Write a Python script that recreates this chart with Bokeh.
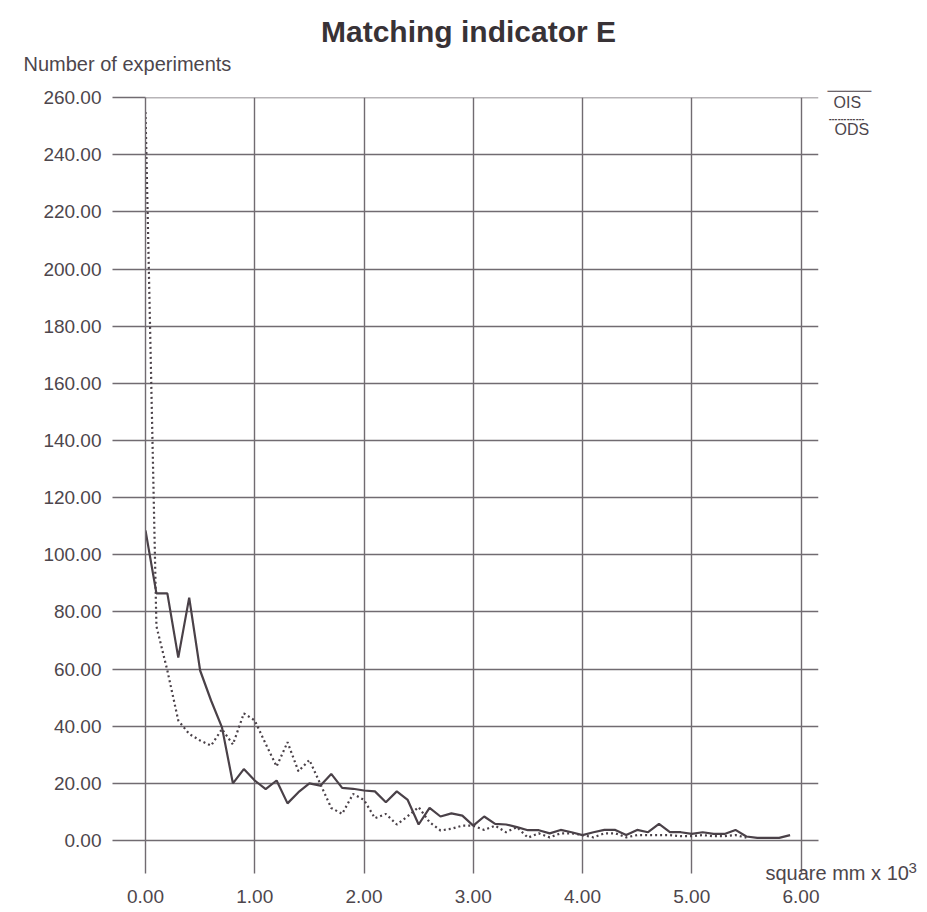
from bokeh.plotting import figure
from bokeh.models import Range1d, FixedTicker, PrintfTickFormatter, Label
from bokeh.embed import file_html
from bokeh.resources import INLINE

# ---------------- data ----------------
ois_x = [0.0, 0.1, 0.2, 0.3, 0.4, 0.5, 0.6, 0.7, 0.8, 0.9,
         1.0, 1.1, 1.2, 1.3, 1.4, 1.5, 1.6, 1.7, 1.8, 1.9,
         2.0, 2.1, 2.2, 2.3, 2.4, 2.5, 2.6, 2.7, 2.8, 2.9,
         3.0, 3.1, 3.2, 3.3, 3.4, 3.5, 3.6, 3.7, 3.8, 3.9,
         4.0, 4.1, 4.2, 4.3, 4.4, 4.5, 4.6, 4.7, 4.8, 4.9,
         5.0, 5.1, 5.2, 5.3, 5.4, 5.5, 5.6, 5.7, 5.8, 5.9]
ois_y = [108.5, 86.5, 86.5, 64.0, 85.0, 59.5, 49.0, 39.6, 20.0, 25.0,
         21.0, 18.0, 21.0, 13.0, 16.9, 20.0, 19.2, 23.3, 18.4, 18.1,
         17.5, 17.2, 13.4, 17.2, 14.2, 5.6, 11.4, 8.4, 9.5, 8.7,
         5.2, 8.4, 5.8, 5.6, 4.7, 3.6, 3.6, 2.5, 3.7, 2.9,
         1.9, 2.9, 3.7, 3.7, 1.9, 3.7, 2.9, 5.8, 2.9, 2.9,
         2.3, 2.9, 2.3, 2.3, 3.7, 1.4, 0.9, 0.9, 0.9, 1.9]

ods_x = [0.0, 0.1, 0.2, 0.3, 0.4, 0.5, 0.6, 0.7, 0.8, 0.9,
         1.0, 1.1, 1.2, 1.3, 1.4, 1.5, 1.6, 1.7, 1.8, 1.9,
         2.0, 2.1, 2.2, 2.3, 2.4, 2.5, 2.6, 2.7, 2.8, 2.9,
         3.0, 3.1, 3.2, 3.3, 3.4, 3.5, 3.6, 3.7, 3.8, 3.9,
         4.0, 4.1, 4.2, 4.3, 4.4, 4.5, 4.6, 4.7, 4.8, 4.9,
         5.0, 5.1, 5.2, 5.3, 5.4, 5.5]
ods_y = [255.0, 75.0, 59.5, 42.0, 37.3, 35.0, 33.2, 39.0, 33.6, 44.5,
         42.0, 33.8, 25.9, 34.4, 24.2, 28.2, 19.8, 11.4, 9.3, 16.3,
         14.2, 7.8, 9.3, 5.6, 8.5, 11.7, 6.4, 3.5, 4.1, 5.2,
         5.2, 3.7, 5.2, 2.9, 4.7, 1.0, 2.5, 1.1, 2.5, 2.5,
         1.9, 1.1, 2.5, 2.5, 1.1, 1.9, 1.9, 1.9, 1.9, 1.5,
         1.5, 1.9, 1.5, 1.5, 1.9, 1.0]

x_ticks = [0, 1, 2, 3, 4, 5, 6]
y_ticks = [0, 20, 40, 60, 80, 100, 120, 140, 160, 180, 200, 220, 240, 260]

title_text = "Matching indicator E"
y_label_text = "Number of experiments"
x_label_text = "square mm x 10"
x_label_power = "3"
series_names = ["OIS", "ODS"]

# ---------------- layout / style ----------------
W, H = 927, 912
B_LEFT, B_RIGHT, B_TOP, B_BOTTOM = 145, 109, 97, 72
X_START, X_END = 0.0, 6.16
Y_START, Y_END = 0.0, 260.05

FONT = "Liberation Sans"
TXT = "#4d464c"
GRID = "#716b71"
LINE = "#4a4148"

p = figure(width=W, height=H, output_backend="svg", toolbar_location=None,
           x_range=Range1d(X_START, X_END), y_range=Range1d(Y_START, Y_END),
           min_border_left=B_LEFT, min_border_right=B_RIGHT,
           min_border_top=B_TOP, min_border_bottom=B_BOTTOM)
p.outline_line_color = None
p.background_fill_color = "white"
p.border_fill_color = "white"

for ax in (p.xaxis[0], p.yaxis[0]):
    ax.axis_line_color = GRID
    ax.axis_line_width = 1.4
    ax.major_tick_line_color = GRID
    ax.major_tick_line_width = 1.4
    ax.major_tick_in = 0
    ax.minor_tick_line_color = None
    ax.major_label_text_font = FONT
    ax.major_label_text_font_size = "19px"
    ax.major_label_text_color = TXT
    ax.formatter = PrintfTickFormatter(format="%.2f")

p.xaxis[0].ticker = FixedTicker(ticks=x_ticks)
p.yaxis[0].ticker = FixedTicker(ticks=y_ticks)
p.xaxis[0].major_tick_out = 33
p.yaxis[0].major_tick_out = 33
p.xaxis[0].major_label_standoff = 16
p.yaxis[0].major_label_standoff = 11

for g in (p.xgrid[0], p.ygrid[0]):
    g.grid_line_color = GRID
    g.grid_line_width = 1.4
p.xgrid[0].ticker = FixedTicker(ticks=x_ticks)
p.ygrid[0].ticker = FixedTicker(ticks=y_ticks)

# series
p.line(ods_x, ods_y, line_color=LINE, line_width=2.2, line_dash="2 3")
p.line(ois_x, ois_y, line_color=LINE, line_width=2.2)


def canvas_label(panel, x, y, text, size, font=FONT, color=TXT, style="normal",
                 align="left", baseline="alphabetic"):
    lab = Label(x=x, y=y, x_units="canvas", y_units="canvas", text=text,
                text_align=align, text_baseline=baseline, text_font=font,
                text_font_size=size, text_font_style=style, text_color=color)
    p.add_layout(lab, panel)


# texts (canvas pixel positions); spread over the side panels so they fit the borders
canvas_label("above", 468, 30.5, title_text, "30px", color="#383236", style="bold",
             align="center")
canvas_label("above", 23, 63, y_label_text, "20px")
canvas_label("above", 765, 872, x_label_text, "20px")
canvas_label("above", 908, 867, x_label_power, "15px")

# legend: names, each with its line drawn above it
canvas_label("right", 833, 102, series_names[0], "16px")
canvas_label("right", 834, 129, series_names[1], "16px")
canvas_label("right", 827, 90, "\u2500" * 5, "14.5px", font="DejaVu Sans", color=LINE,
             baseline="middle")
canvas_label("left", 828, 119, "\u2504" * 4, "15px", font="DejaVu Sans", color=LINE,
             baseline="middle")

open("out.html", "w").write(file_html(p, INLINE))
